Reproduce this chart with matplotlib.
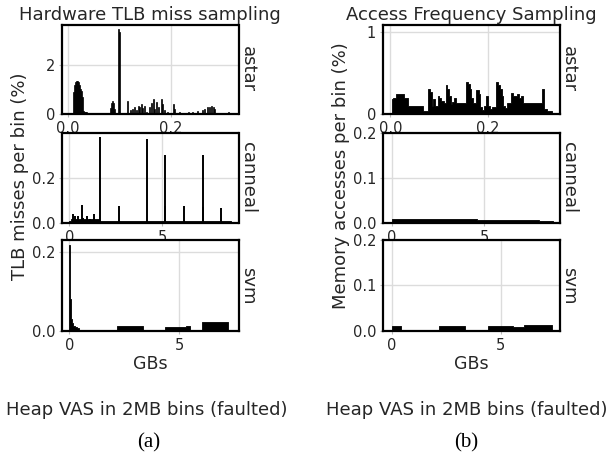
import matplotlib
matplotlib.use("Agg")
import matplotlib.pyplot as plt

BIN_GB = 2 / 1024  # one 2MB bin

# ---- (a) Hardware TLB miss sampling, % of misses per bin ----
# astar: per-bin peaks (GB, %)
astar_tlb_gb = [0.011, 0.013, 0.015, 0.017, 0.019, 0.021, 0.023, 0.025, 0.027, 0.029,
                0.031, 0.033, 0.035, 0.037,
                0.083, 0.085, 0.087, 0.089, 0.091,
                0.099, 0.101,
                0.116, 0.121, 0.125, 0.129, 0.133, 0.136, 0.139, 0.142, 0.145, 0.148,
                0.152, 0.158, 0.161, 0.165, 0.168, 0.172, 0.176, 0.181, 0.183, 0.187,
                0.192, 0.195, 0.205, 0.207, 0.216, 0.234, 0.242, 0.250, 0.260, 0.264,
                0.270, 0.274, 0.278, 0.281, 0.284, 0.292, 0.303, 0.311]
astar_tlb_pct = [0.9, 1.2, 1.3, 1.35, 1.38, 1.32, 1.2, 1.05, 0.95, 0.7,
                 0.12, 0.1, 0.1, 0.08,
                 0.25, 0.45, 0.52, 0.45, 0.2,
                 3.5, 3.4,
                 0.55, 0.15, 0.2, 0.3, 0.15, 0.35, 0.3, 0.4, 0.25, 0.35,
                 0.1, 0.3, 0.45, 0.6, 0.2, 0.5, 0.3, 0.62, 0.4, 0.15,
                 0.1, 0.05, 0.4, 0.2, 0.08, 0.1, 0.08, 0.12, 0.15, 0.2,
                 0.3, 0.28, 0.32, 0.3, 0.2, 0.06, 0.05, 0.08]
astar_tlb_floor_gb = [0.104, 0.220, 0.314]
astar_tlb_floor_pct = [0.04, 0.03, 0.03]

# canneal: isolated spikes plus a low floor
canneal_tlb_gb = [0.18, 0.31, 0.49, 0.67, 0.76, 0.97, 1.12, 1.34, 1.48,
                  1.66, 2.69, 4.20, 5.14, 5.17, 6.18, 7.20, 7.23, 8.20]
canneal_tlb_pct = [0.04, 0.03, 0.03, 0.08, 0.02, 0.03, 0.015, 0.04, 0.01,
                   0.38, 0.074, 0.372, 0.074, 0.30, 0.074, 0.07, 0.30, 0.065]
canneal_tlb_floor_gb = [0.0, 0.1, 1.6, 8.7]
canneal_tlb_floor_pct = [0.006, 0.018, 0.006, 0.006]

# svm: step profile (value holds until next edge)
svm_tlb_gb = [0.0, 0.03, 0.06, 0.09, 0.12, 0.18, 0.25, 0.35, 0.45, 0.55,
              2.16, 3.35, 4.37, 5.30, 5.51, 6.06, 7.23]
svm_tlb_pct = [0.219, 0.08, 0.045, 0.03, 0.019, 0.013, 0.009, 0.006, 0.003, 0.001,
               0.0128, 0.001, 0.0094, 0.013, 0.001, 0.022, 0.0]

# ---- (b) Access frequency sampling, % of accesses per bin ----
astar_acc_gb = [0.0035, 0.006, 0.0116, 0.0286, 0.0354, 0.066, 0.077, 0.0803, 0.0844,
                0.0878, 0.0912, 0.0967, 0.100, 0.104, 0.109, 0.1130, 0.1164, 0.1198,
                0.1232, 0.1266, 0.130, 0.134, 0.1545, 0.158, 0.1626, 0.166, 0.1701,
                0.1762, 0.181, 0.1837, 0.1878, 0.1919, 0.196, 0.1994, 0.2041, 0.2089,
                0.2157, 0.2205, 0.2246, 0.228, 0.2314, 0.2354, 0.2395, 0.2477, 0.2518,
                0.2586, 0.2626, 0.2667, 0.2715, 0.311, 0.3137, 0.3211, 0.3313]
astar_acc_pct = [0.18, 0.2, 0.245, 0.19, 0.094, 0.04, 0.31, 0.265, 0.1,
                 0.18, 0.1, 0.22, 0.2, 0.16, 0.13, 0.35, 0.3, 0.22,
                 0.12, 0.15, 0.2, 0.14, 0.39, 0.36, 0.3, 0.2, 0.14,
                 0.29, 0.24, 0.08, 0.05, 0.1, 0.22, 0.1, 0.06, 0.08,
                 0.39, 0.35, 0.3, 0.22, 0.1, 0.07, 0.13, 0.26, 0.22,
                 0.24, 0.19, 0.22, 0.14, 0.31, 0.06, 0.04, 0.0]

canneal_acc_gb = [0.0, 4.6, 8.0, 8.75]
canneal_acc_pct = [0.009, 0.006, 0.0045, 0.0]

svm_acc_gb = [0.0, 0.44, 2.17, 3.35, 4.42, 5.57, 6.05, 7.37]
svm_acc_pct = [0.0114, 0.0, 0.0114, 0.0, 0.011, 0.008, 0.012, 0.0]

plt.rcParams["font.family"] = "DejaVu Sans"
TXT = "#262626"

fig = plt.figure(figsize=(6.11, 4.68), dpi=100)

cols = [62 / 611, 383 / 611]
width = 176.5 / 611
rows = [(0.7564, 0.1902), (0.5241, 0.1917), (0.2934, 0.1938)]


def style(ax, xlim, ylim, xticks, yticks, name):
    ax.set_xlim(*xlim)
    ax.set_ylim(*ylim)
    ax.set_xticks(xticks)
    ax.set_yticks(yticks)
    ax.set_axisbelow(True)
    ax.grid(True, color="#dcdcdc", lw=1)
    for s in ax.spines.values():
        s.set_color("black")
        s.set_linewidth(1.6)
    ax.tick_params(length=2.5, width=0.8, color="#bbbbbb", labelcolor=TXT,
                   labelsize=10.5, pad=2.5)
    ax.text(1.004, 0.5, name, transform=ax.transAxes, rotation=270,
            ha="left", va="center", fontsize=13, color=TXT)


def bins(ax, gb, pct):
    ax.bar(gb, pct, width=BIN_GB, align="center", color="black",
           edgecolor="black", linewidth=0.5)


def steps(ax, gb, pct):
    ax.fill_between(gb, pct, step="post", color="black", lw=0.6)


axes = [[fig.add_axes([c, b, width, h]) for (b, h) in rows] for c in cols]
a1, a2, a3 = axes[0]
b1, b2, b3 = axes[1]

# (a)
bins(a1, astar_tlb_gb, astar_tlb_pct)
steps(a1, astar_tlb_floor_gb, astar_tlb_floor_pct)
style(a1, (-0.011, 0.330), (0, 3.67), [0.0, 0.2], [0, 2], "astar")
a1.set_title("Hardware TLB miss sampling", fontsize=13, color=TXT, pad=3.5)

a2.vlines(canneal_tlb_gb, 0, canneal_tlb_pct, color="black", lw=1.4)
steps(a2, canneal_tlb_floor_gb, canneal_tlb_floor_pct)
style(a2, (-0.39, 9.12), (0, 0.40), [0, 5], [0.0, 0.2], "canneal")

steps(a3, svm_tlb_gb, svm_tlb_pct)
style(a3, (-0.33, 7.70), (0, 0.231), [0, 5], [0.0, 0.2], "svm")
a3.set_xlabel("GBs", fontsize=12.5, color=TXT, labelpad=2)

# (b)
steps(b1, astar_acc_gb, astar_acc_pct)
style(b1, (-0.015, 0.346), (0, 1.085), [0.0, 0.2], [0, 1], "astar")
b1.set_title("Access Frequency Sampling", fontsize=13, color=TXT, pad=3.5)

steps(b2, canneal_acc_gb, canneal_acc_pct)
style(b2, (-0.5, 9.11), (0, 0.2), [0, 5], [0.0, 0.1, 0.2], "canneal")

steps(b3, svm_acc_gb, svm_acc_pct)
style(b3, (-0.41, 7.70), (0, 0.2), [0, 5], [0.0, 0.1, 0.2], "svm")
b3.set_xlabel("GBs", fontsize=12.5, color=TXT, labelpad=2)

fig.text(20 / 611, 1 - 176 / 468, "TLB misses per bin (%)", rotation=90,
         ha="center", va="center", fontsize=13, color=TXT)
fig.text(341 / 611, 1 - 176 / 468, "Memory accesses per bin (%)", rotation=90,
         ha="center", va="center", fontsize=13, color=TXT)

fig.text(146.5 / 611, 1 - 410 / 468, "Heap VAS in 2MB bins (faulted)",
         ha="center", va="center", fontsize=13, color=TXT)
fig.text(466.5 / 611, 1 - 410 / 468, "Heap VAS in 2MB bins (faulted)",
         ha="center", va="center", fontsize=13, color=TXT)
fig.text(149 / 611, 1 - 443 / 468, "(a)", ha="center", va="center",
         fontsize=15, family="Liberation Serif", color="black")
fig.text(466 / 611, 1 - 443 / 468, "(b)", ha="center", va="center",
         fontsize=15, family="Liberation Serif", color="black")

fig.savefig("out.png", dpi=100)
